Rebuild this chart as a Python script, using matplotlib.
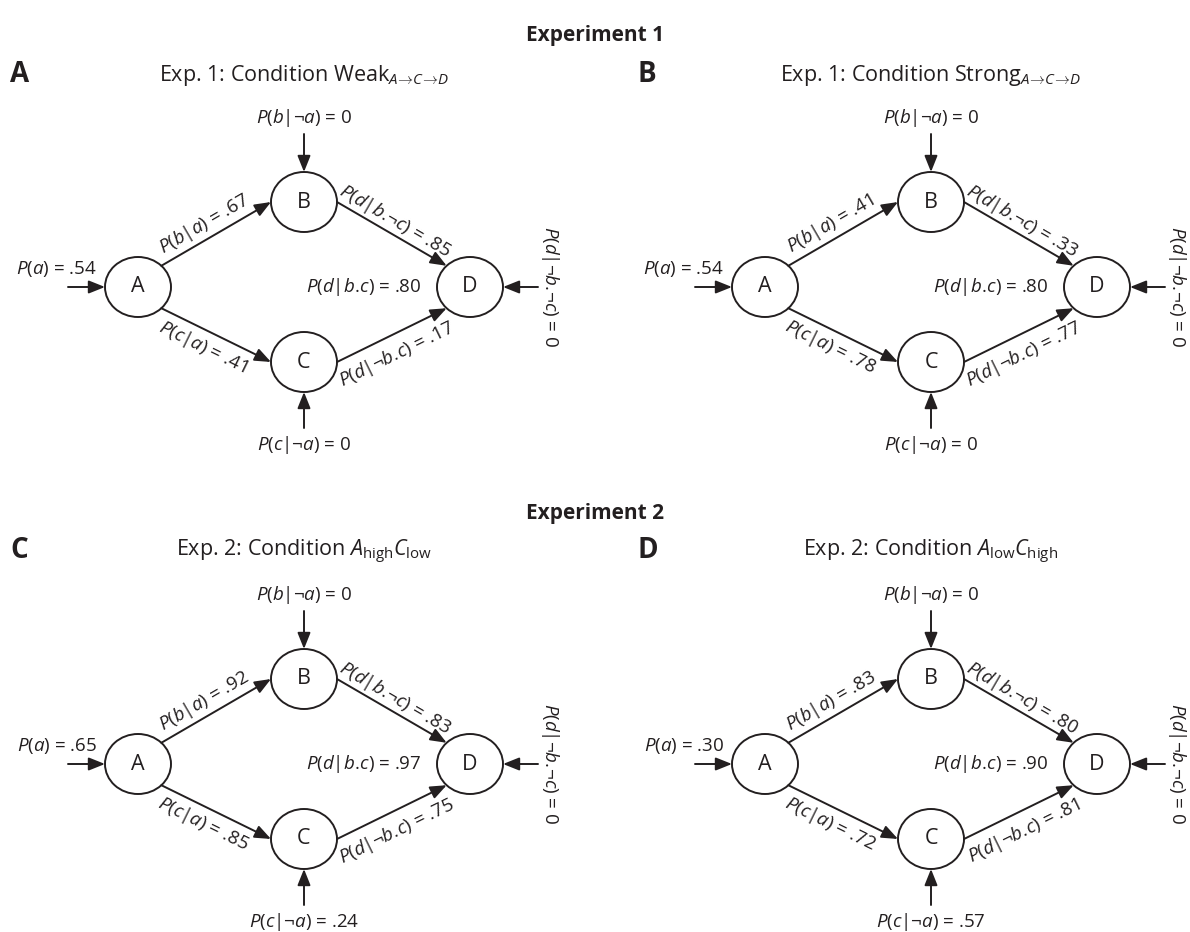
import numpy as np
import matplotlib
matplotlib.use('Agg')
import matplotlib.pyplot as plt
from matplotlib.patches import Ellipse

plt.rcParams['font.family'] = ['Open Sans', 'DejaVu Sans']
plt.rcParams['mathtext.fontset'] = 'custom'
plt.rcParams['mathtext.rm'] = 'Open Sans'
plt.rcParams['mathtext.it'] = 'Open Sans:italic'
plt.rcParams['mathtext.bf'] = 'Open Sans:bold'

# data
experiments = ['Experiment 1', 'Experiment 2']
panel_letters = ['A', 'B', 'C', 'D']
titles = [r'Exp. 1: Condition Weak$_{A\!\rightarrow\!C\!\rightarrow\!D}$',
          r'Exp. 1: Condition Strong$_{A\!\rightarrow\!C\!\rightarrow\!D}$',
          r'Exp. 2: Condition $A_{\mathrm{high}}C_{\mathrm{low}}$',
          r'Exp. 2: Condition $A_{\mathrm{low}}C_{\mathrm{high}}$']
p_a = [.54, .54, .65, .30]
p_b_a = [.67, .41, .92, .83]
p_c_a = [.41, .78, .85, .72]
p_b_na = [0, 0, 0, 0]
p_c_na = [0, 0, .24, .57]
p_d_bnc = [.85, .33, .83, .80]
p_d_nbc = [.17, .77, .75, .81]
p_d_bc = [.80, .80, .97, .90]
p_d_nbnc = [0, 0, 0, 0]


def fmt(v):
    return '0' if v == 0 else f'{v:.2f}'[1:]


ink = '#231f20'
fs = 13.5

fig = plt.figure(figsize=(11.9, 9.32), dpi=100)
ax = fig.add_axes([0, 0, 1, 1])
ax.set_xlim(0, 1190)
ax.set_ylim(932, 0)
ax.axis('off')

# layout (pixels inside one panel)
ox = [0, 627, 0, 627]
oy = [0, 0, 477, 477]
nodes = {'A': (138, 287), 'B': (304, 202), 'C': (304, 362), 'D': (470, 287)}
rx, ry = 33, 30
dx45, dy45 = rx * 0.707, ry * 0.707


def arrow(x0, y0, x1, y1):
    ax.annotate('', xy=(x1, y1), xytext=(x0, y0),
                arrowprops=dict(arrowstyle='-|>,head_length=0.7,head_width=0.28',
                                color=ink, lw=1.4, shrinkA=0, shrinkB=0,
                                mutation_scale=14))


def edge_label(txt, p0, p1, pos):
    ang = np.degrees(np.arctan2(-(p1[1] - p0[1]), p1[0] - p0[0]))
    ax.text(pos[0], pos[1], txt, rotation=ang, rotation_mode='anchor',
            ha='center', va='center', fontsize=fs, color=ink)


for y, name in zip([36, 513], experiments):
    ax.text(595, y, name, ha='center', va='center', fontsize=15,
            fontweight='bold', color=ink)

for i in range(4):
    X, Y = ox[i], oy[i]
    N = {k: (X + v[0], Y + v[1]) for k, v in nodes.items()}

    ax.text(X + 10, Y + 74, panel_letters[i], ha='left', va='center',
            fontsize=20, fontweight='bold', color=ink)
    ax.text(X + 304, Y + 75, titles[i], ha='center', va='center',
            fontsize=15.5, color=ink)

    for k, (cx, cy) in N.items():
        ax.add_patch(Ellipse((cx, cy), 2 * rx, 2 * ry, fill=False,
                             ec=ink, lw=1.4))
        ax.text(cx, cy, k, ha='center', va='center', fontsize=15.5, color=ink)

    A, B, C, D = N['A'], N['B'], N['C'], N['D']
    # causal edges
    e_ab = ((A[0] + dx45, A[1] - dy45), (B[0] - rx, B[1]))
    e_ac = ((A[0] + dx45, A[1] + dy45), (C[0] - rx, C[1]))
    e_bd = ((B[0] + rx, B[1]), (D[0] - dx45, D[1] - dy45))
    e_cd = ((C[0] + rx, C[1]), (D[0] - dx45, D[1] + dy45))
    for p0, p1 in [e_ab, e_ac, e_bd, e_cd]:
        arrow(p0[0], p0[1], p1[0], p1[1])

    edge_label(rf'$P(b|a)$ = {fmt(p_b_a[i])}', *e_ab, (X + 204, Y + 224))
    edge_label(rf'$P(c|a)$ = {fmt(p_c_a[i])}', *e_ac, (X + 203, Y + 347))
    edge_label(rf'$P(d|b.\!\neg c)$ = {fmt(p_d_bnc[i])}', *e_bd, (X + 395, Y + 221))
    edge_label(rf'$P(d|\neg b.\!c)$ = {fmt(p_d_nbc[i])}', *e_cd, (X + 397, Y + 354))

    # background causes
    arrow(A[0] - 70, A[1], A[0] - rx, A[1])
    ax.text(A[0] - 41, A[1] - 18, rf'$P(a)$ = {fmt(p_a[i])}', ha='right',
            va='center', fontsize=fs, color=ink)
    arrow(B[0], B[1] - 68, B[0], B[1] - ry)
    ax.text(B[0], B[1] - 84, rf'$P(b|\neg a)$ = {fmt(p_b_na[i])}',
            ha='center', va='center', fontsize=fs, color=ink)
    arrow(C[0], C[1] + 66, C[0], C[1] + ry)
    ax.text(C[0], C[1] + 83, rf'$P(c|\neg a)$ = {fmt(p_c_na[i])}',
            ha='center', va='center', fontsize=fs, color=ink)
    arrow(D[0] + 68, D[1], D[0] + rx, D[1])
    ax.text(D[0] + 80, D[1], rf'$P(d|\neg b.\!\neg c)$ = {fmt(p_d_nbnc[i])}',
            rotation=270, ha='center', va='center', fontsize=fs, color=ink)
    ax.text(D[0] - 106, D[1], rf'$P(d|b.\!c)$ = {fmt(p_d_bc[i])}',
            ha='center', va='center', fontsize=fs, color=ink)

fig.savefig('out.png', dpi=100)
